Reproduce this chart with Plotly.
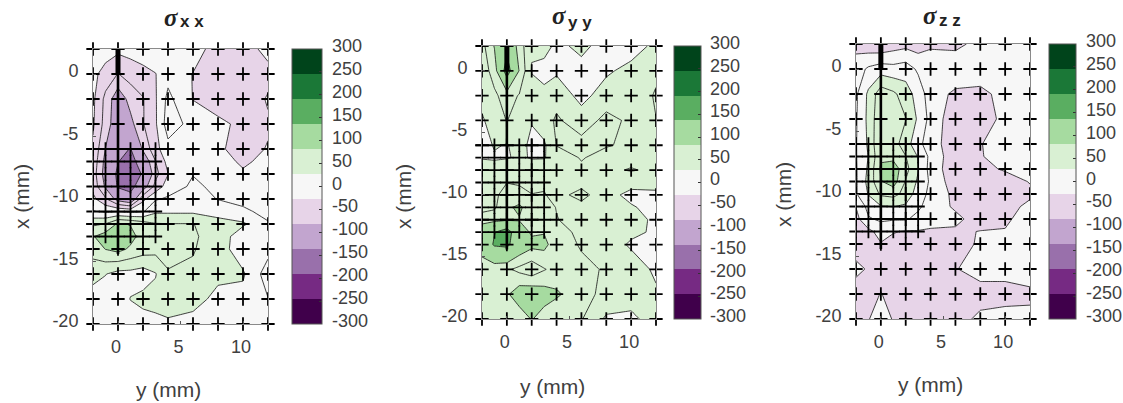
import plotly.graph_objects as go

Y_MM = [-2, -1, 0, 1, 2, 3, 4, 6, 8, 10, 12]
X_MM = [2, 0, -2, -4, -6, -7, -8, -9, -10, -11, -12, -13, -14, -16, -18, -20]

SIGMA_XX = [
    [-8, -15, -22, -18, -12, -8, -5, -15, -45, -45, -20],
    [-22, -42, -61, -48, -40, -31, -10, -31, -50, -50, -40],
    [-24, -68, -112, -78, -62, -33, 8, -31, -48, -50, -27],
    [-26, -72, -115, -100, -62, -34, 15, -10, -22, -38, -34],
    [-35, -91, -135, -152, -85, -40, -10, -8, -25, -42, -28],
    [-40, -100, -148, -172, -119, -61, -20, -8, -15, -36, -20],
    [-45, -105, -160, -178, -145, -70, -31, -1, -10, -25, -12],
    [-40, -95, -155, -170, -110, -50, -15, 5, -6, -15, -10],
    [-22, -55, -105, -125, -38, -3, 4, 12, -1, -6, -12],
    [2, -5, -3, -8, -3, 25, 25, 25, 18, 4, -6],
    [55, 61, 95, 88, 75, 62, 61, 61, 42, 35, 2],
    [88, 105, 115, 100, 78, 70, 68, 63, 50, 10, 6],
    [70, 91, 100, 85, 75, 70, 68, 62, 45, 12, 10],
    [45, 31, 20, 20, 15, 28, 58, 55, 35, 34, -15],
    [10, 15, 15, 31, 38, 40, 45, 38, 24, 20, 1],
    [5, 5, 5, 12, 18, 22, 25, 22, 10, 5, 3],
]
SIGMA_YY = [
    [50, 92, 135, 75, 34, 40, 24, 36, 20, 15, 38],
    [45, 72, 175, 88, 28, 20, 25, 22, 25, 40, 50],
    [40, 55, 72, 58, 45, 38, 50, 20, 45, 29, 65],
    [26, 45, 61, 45, 32, 48, 64, 45, 68, 55, 59],
    [15, 33, 28, 42, 22, 25, 61, 70, 62, 55, 50],
    [28, 26, 28, 34, 28, 28, 45, 62, 50, 52, 50],
    [45, 45, 50, 40, 45, 50, 55, 55, 55, 62, 55],
    [50, 50, 59, 55, 50, 55, 58, 50, 50, 40, 35],
    [55, 50, 80, 75, 61, 62, 50, 70, 40, 22, 27],
    [45, 55, 85, 95, 75, 70, 59, 50, 42, 33, 20],
    [82, 80, 85, 88, 72, 70, 61, 50, 42, 40, 25],
    [105, 148, 175, 110, 85, 88, 68, 55, 46, 36, 26],
    [118, 155, 160, 119, 100, 100, 70, 58, 45, 26, 18],
    [62, 70, 65, 52, 40, 58, 70, 65, 58, 45, 25],
    [62, 72, 85, 110, 115, 105, 95, 70, 52, 40, 34],
    [65, 62, 65, 70, 92, 75, 65, 62, 25, 25, 40],
]
SIGMA_ZZ = [
    [-40, -50, -55, -45, -40, -45, -34, -38, -20, -10, -10],
    [-15, 5, 15, 10, 15, -5, -15, -8, -12, -10, -8],
    [-5, 36, 78, 66, 45, 17, -15, -36, -38, -20, -10],
    [-3, 38, 85, 80, 61, 25, -10, -50, -45, -22, -12],
    [-2, 35, 91, 72, 45, 8, -15, -50, -31, -20, -12],
    [-2, 31, 85, 80, 61, 28, -8, -50, -32, -18, -10],
    [-3, 35, 95, 108, 70, 32, -12, -50, -35, -28, -18],
    [-4, 40, 88, 105, 58, 25, -5, -48, -42, -38, -29],
    [-3, 32, 65, 70, 50, 15, -8, -38, -50, -45, -34],
    [-29, 10, 28, 31, 25, 5, -12, -35, -50, -38, -25],
    [-40, -3, 5, 3, 3, -8, -18, -22, -45, -33, -22],
    [-48, -38, -18, -28, -32, -32, -34, -35, -29, -29, -15],
    [-50, -45, -32, -40, -42, -42, -45, -42, -26, -12, -8],
    [-20, -34, -50, -55, -55, -55, -55, -32, -15, -15, -10],
    [-50, -50, -28, -48, -56, -56, -56, -56, -45, -45, -38],
    [-45, -32, -10, -33, -50, -50, -50, -45, -22, -15, -20],
]

TITLES = ["x x", "y y", "z z"]
CBAR_TICKS = [300, 250, 200, 150, 100, 50, 0, -50, -100, -150, -200, -250, -300]
AXIS_X_TICKS = [0, 5, 10]
AXIS_Y_TICKS = [0, -5, -10, -15, -20]
COARSE_Y = [-2, 0, 2, 4, 6, 8, 10, 12]
COARSE_X = [2, 0, -2, -4, -6, -8, -10, -12, -14, -16, -18, -20]
FINE_Y = [-2, -1, 0, 1, 2, 3]
FINE_X = [-6, -7, -8, -9, -10, -11, -12, -13]
PRGN = ["#40004b", "#762a83", "#9970ab", "#c2a5cf", "#e7d4e8", "#f7f7f7",
        "#d9f0d3", "#a6dba0", "#5aae61", "#1b7837", "#00441b"]

W, H = 1123, 403
TXT = "#404040"
FONT = "Liberation Sans, Arial, sans-serif"
scale = []
for i, c in enumerate(PRGN):
    scale += [[i / len(PRGN), c], [(i + 1) / len(PRGN), c]]

panels = [
    dict(z=SIGMA_XX, box=(93, 268, 49, 324), cb=(292, 30), cbl=330, sig=(171, 18), sub=(192, 22),
         xt=(168, 389), yt=(21, 197)),
    dict(z=SIGMA_YY, box=(482, 656, 46, 319), cb=(674, 27), cbl=708, sig=(559, 15), sub=(580, 23),
         xt=(552, 386), yt=(403, 197)),
    dict(z=SIGMA_ZZ, box=(856, 1030, 44, 319), cb=(1049, 27), cbl=1084, sig=(930, 15), sub=(950, 20),
         xt=(930, 384), yt=(783, 195)),
]

fig = go.Figure()
annotations = []
layout = {}


def note(text, px, py, size, xanchor="center", angle=0, family=FONT, color=TXT):
    annotations.append(dict(text=text, x=px / W, y=1 - py / H, xref="paper", yref="paper",
                            xanchor=xanchor, yanchor="middle", showarrow=False, textangle=angle,
                            font=dict(family=family, size=size, color=color)))


for k, p in enumerate(panels):
    n = "" if k == 0 else str(k + 1)
    l, r, t, b = p["box"]
    ca = "coloraxis" + n
    fig.add_trace(go.Contour(
        x=Y_MM, y=X_MM[::-1], z=p["z"][::-1], zmin=-300, zmax=300, colorscale=scale, showscale=False,
        autocontour=False,
        contours=dict(start=-330, end=330, size=60, coloring="fill", showlines=True),
        line=dict(color="#111111", width=0.8, smoothing=0),
        xaxis="x" + n, yaxis="y" + n, hoverinfo="skip"))
    # the extra lines that lie inside the white and the palest bands
    fig.add_trace(go.Contour(
        x=Y_MM, y=X_MM[::-1], z=p["z"][::-1], showscale=False, autocontour=False,
        contours=dict(start=-60, end=60, size=60, coloring="none", showlines=True),
        line=dict(color="#111111", width=0.8, smoothing=0),
        xaxis="x" + n, yaxis="y" + n, hoverinfo="skip"))
    xs = [yy for yy in COARSE_Y for _ in COARSE_X] + [yy for yy in FINE_Y for _ in FINE_X]
    ys = [xx for _ in COARSE_Y for xx in COARSE_X] + [xx for _ in FINE_Y for xx in FINE_X]
    fig.add_trace(go.Scatter(
        x=xs, y=ys, mode="markers", cliponaxis=False, showlegend=False,
        marker=dict(symbol="cross-thin", size=9.5, line=dict(color="black", width=1.8)),
        xaxis="x" + n, yaxis="y" + n, hoverinfo="skip"))
    fig.add_trace(go.Scatter(x=[0, 0], y=[2, 0], mode="lines", showlegend=False,
                             line=dict(color="black", width=5),
                             xaxis="x" + n, yaxis="y" + n, hoverinfo="skip"))
    fig.add_trace(go.Scatter(x=[0, 0], y=[0, -14.4], mode="lines", showlegend=False,
                             line=dict(color="black", width=2.6), cliponaxis=False,
                             xaxis="x" + n, yaxis="y" + n, hoverinfo="skip"))
    # carries the colour bar; its two values set the range of the colour scale
    fig.add_trace(go.Scatter(x=[None, None], y=[None, None], mode="markers", showlegend=False,
                             marker=dict(color=[-300, 300], coloraxis=ca),
                             xaxis="x" + n, yaxis="y" + n, hoverinfo="skip"))
    common = dict(showline=True, mirror=True, linecolor="#8a8a8a", linewidth=1, showgrid=False,
                  zeroline=False, ticks="inside", ticklen=3, tickcolor="#555555",
                  tickfont=dict(family=FONT, size=18, color=TXT))
    layout["xaxis" + n] = dict(domain=[l / W, r / W], range=[-2, 12], tickvals=AXIS_X_TICKS,
                               ticktext=[str(v) for v in AXIS_X_TICKS], ticklabelshift=-2,
                               ticklabelstandoff=6, anchor="y" + n, **common)
    layout["yaxis" + n] = dict(domain=[1 - b / H, 1 - t / H], range=[-20, 2], tickvals=AXIS_Y_TICKS,
                               ticktext=[str(v) for v in AXIS_Y_TICKS], ticklabelshift=-3,
                               ticklabelstandoff=10, anchor="x" + n, **common)
    cx, cw = p["cb"]
    layout[ca] = dict(
        cmin=-300, cmax=300, colorscale=scale,
        colorbar=dict(x=cx / W, xanchor="left", xpad=0, ypad=0, y=1 - b / H, yanchor="bottom",
                      len=(b - t), lenmode="pixels", thickness=cw, thicknessmode="pixels",
                      outlinecolor="#555555", outlinewidth=1, tickvals=CBAR_TICKS,
                      showticklabels=False, ticks="inside", ticklen=3, tickcolor="#333333",
                      tickwidth=1))
    for v in CBAR_TICKS:
        note(str(v), p["cbl"], t + (300 - v) / 600 * (b - t) - 3, 18, xanchor="left")
    note("y (mm)", *p["xt"], 21)
    note("x (mm)", *p["yt"], 21, angle=-90)
    note("<b><i>σ</i></b>", *p["sig"], 25, family="Liberation Serif, serif", color="#222222")
    note("<b>" + TITLES[k] + "</b>", *p["sub"], 17, color="#222222")

fig.update_layout(width=W, height=H, margin=dict(l=0, r=0, t=0, b=0, autoexpand=False),
                  paper_bgcolor="white", plot_bgcolor="white", showlegend=False,
                  annotations=annotations, **layout)
fig.write_html("out.html", config={"displayModeBar": False},
               post_script="document.body.style.margin='0';")
